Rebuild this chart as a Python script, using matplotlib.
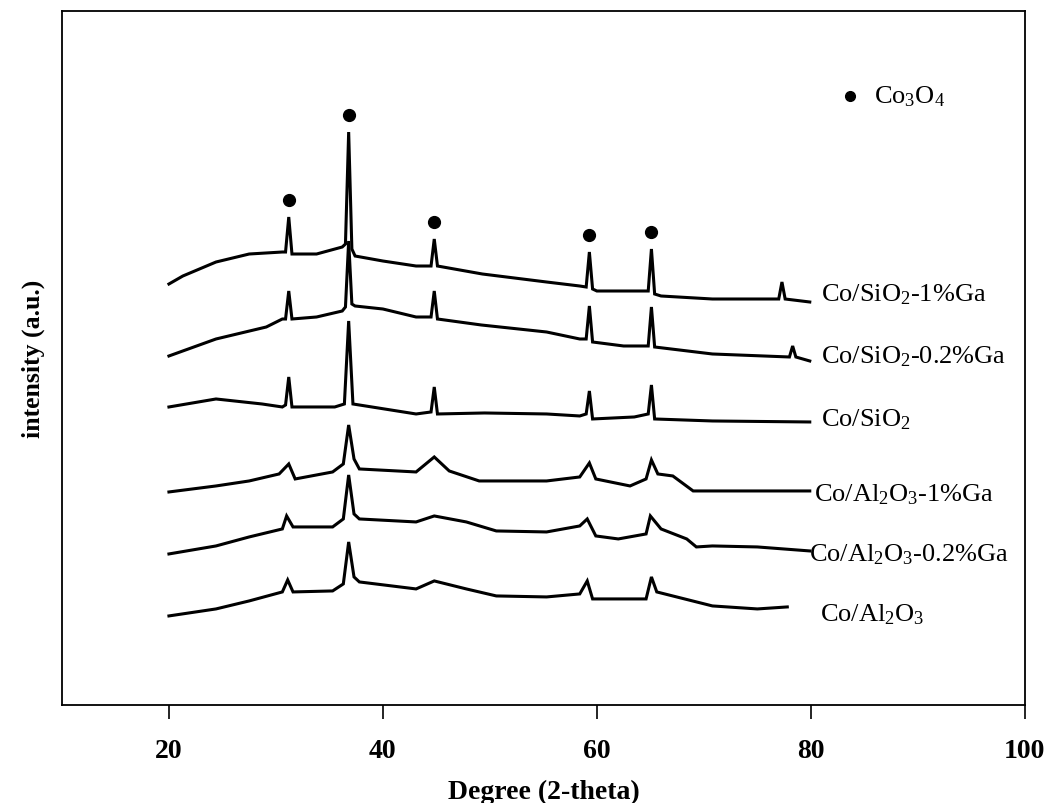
import matplotlib
matplotlib.use("Agg")
import matplotlib.pyplot as plt
import numpy as np

plt.rcParams['font.family'] = ['Liberation Serif', 'DejaVu Serif']
plt.rcParams['mathtext.fontset'] = 'custom'
plt.rcParams['mathtext.rm'] = 'Liberation Serif'
plt.rcParams['mathtext.it'] = 'Liberation Serif'

# XRD patterns (2-theta in degrees, intensity in a.u. incl. stacking offset)
x_sio2_1ga = [20.0, 21.3, 24.4, 27.5, 30.6, 30.9, 31.2, 31.5, 33.8, 36.2, 36.5, 36.8, 37.1, 37.4,
              40.0, 43.1, 44.5, 44.8, 45.1, 49.3, 55.3, 58.4, 59.0, 59.3, 59.6, 60.0, 64.8, 65.1,
              65.4, 66.0, 70.8, 77.0, 77.3, 77.6, 79.9]
y_sio2_1ga = [421, 429, 443, 451, 453, 453, 488, 451, 451, 458, 461, 573, 456, 449,
              444, 439, 439, 466, 439, 431, 423, 419, 418, 453, 416, 414, 414, 456,
              411, 409, 406, 406, 423, 406, 403]

x_sio2_02ga = [20.0, 24.4, 29.1, 30.6, 30.9, 31.2, 31.5, 33.8, 36.2, 36.5, 36.8, 37.1, 37.4, 40.0,
               43.1, 44.5, 44.8, 45.1, 49.2, 55.3, 58.4, 59.0, 59.3, 59.6, 62.5, 64.8, 65.1, 65.4,
               70.8, 78.0, 78.3, 78.6, 79.9]
y_sio2_02ga = [349, 366, 378, 386, 386, 414, 386, 388, 394, 398, 464, 401, 399, 396,
               388, 388, 414, 386, 380, 373, 366, 366, 399, 363, 359, 359, 398, 358,
               351, 348, 359, 348, 344]

x_sio2 = [20.0, 24.4, 28.7, 30.6, 30.9, 31.2, 31.5, 35.5, 36.4, 36.8, 37.2, 43.1, 44.5, 44.8,
          45.1, 49.5, 55.3, 58.4, 59.0, 59.3, 59.6, 63.5, 64.8, 65.1, 65.4, 70.8, 79.9]
y_sio2 = [298, 306, 301, 298, 300, 328, 298, 298, 301, 384, 301, 291, 293, 318,
          291, 292, 291, 289, 291, 314, 286, 288, 291, 320, 286, 284, 283]

x_al2o3_1ga = [20.0, 24.4, 27.5, 30.3, 31.2, 31.8, 35.3, 36.3, 36.8, 37.3, 37.8, 43.1, 44.8, 46.2,
               49.0, 55.3, 58.4, 59.3, 59.9, 63.1, 64.6, 65.1, 65.7, 67.1, 69.0, 79.9]
y_al2o3_1ga = [213, 219, 224, 231, 241, 226, 233, 241, 280, 246, 236, 233, 248, 234,
               224, 224, 228, 242, 226, 219, 226, 245, 231, 229, 214, 214]

x_al2o3_02ga = [20.0, 24.4, 27.5, 30.6, 31.0, 31.6, 35.3, 36.3, 36.8, 37.3, 37.8, 43.1, 44.8, 47.8,
                50.6, 55.3, 58.4, 59.1, 59.9, 62.0, 64.6, 65.0, 66.0, 68.4, 69.3, 70.8, 75.0, 79.9]
y_al2o3_02ga = [151, 159, 168, 176, 189, 178, 178, 186, 230, 191, 186, 183, 189, 183,
                174, 173, 179, 186, 169, 166, 171, 189, 176, 166, 158, 159, 158, 154]

x_al2o3 = [20.0, 24.4, 27.5, 30.6, 31.1, 31.6, 35.3, 36.3, 36.8, 37.3, 37.8, 43.1, 44.8, 47.8,
           50.6, 55.3, 58.4, 59.1, 59.6, 64.6, 65.1, 65.6, 70.8, 75.0, 77.8]
y_al2o3 = [89, 96, 104, 113, 125, 113, 114, 121, 163, 128, 123, 116, 124, 116,
           109, 108, 111, 124, 106, 106, 128, 113, 99, 96, 98]

samples = ['Co/SiO$_2$-1%Ga', 'Co/SiO$_2$-0.2%Ga', 'Co/SiO$_2$',
           'Co/Al$_2$O$_3$-1%Ga', 'Co/Al$_2$O$_3$-0.2%Ga', 'Co/Al$_2$O$_3$']
xs = [x_sio2_1ga, x_sio2_02ga, x_sio2, x_al2o3_1ga, x_al2o3_02ga, x_al2o3]
ys = [y_sio2_1ga, y_sio2_02ga, y_sio2, y_al2o3_1ga, y_al2o3_02ga, y_al2o3]

# Co3O4 reflections marked with dots
co3o4_peaks = [31.2, 36.8, 44.8, 59.3, 65.1]

fig = plt.figure(figsize=(10.5, 8.04), dpi=100)
ax = fig.add_axes([0.059, 0.122, 0.917, 0.863])

for x, y in zip(xs, ys):
    ax.plot(x, y, color='black', lw=2.2, solid_joinstyle='miter')

# dots sit just above the top pattern's peaks
dot_y = np.interp(co3o4_peaks, x_sio2_1ga, y_sio2_1ga) + 17
ax.plot(co3o4_peaks, dot_y, 'o', color='black', markersize=8.5)

# sample labels at the right end of each pattern
label_x = [80.95, 80.95, 80.95, 80.3, 79.8, 80.9]
label_off = [8, 5, 3, -3, -3, -7]
for lab, x, y, lx, off in zip(samples, xs, ys, label_x, label_off):
    ax.text(lx, y[-1] + off, lab, fontsize=19, ha='left', va='center')

# legend entry
ax.plot([83.7], [609], 'o', color='black', markersize=7)
ax.text(85.9, 609, 'Co$_3$O$_4$', fontsize=19, ha='left', va='center')

ax.set_xlim(10, 100)
ax.set_ylim(0, 694)
ax.set_xticks([20, 40, 60, 80, 100])
ax.set_yticks([])
ax.tick_params(axis='x', direction='out', length=10, width=1.2, labelsize=20, pad=14)
for lbl in ax.get_xticklabels():
    lbl.set_fontweight('bold')
for s in ax.spines.values():
    s.set_linewidth(1.3)

ax.set_xlabel('Degree (2-theta)', fontsize=20, fontweight='bold', labelpad=11)
ax.set_ylabel('intensity (a.u.)', fontsize=18.5, fontweight='bold', labelpad=12)

plt.savefig('out.png', dpi=100)
